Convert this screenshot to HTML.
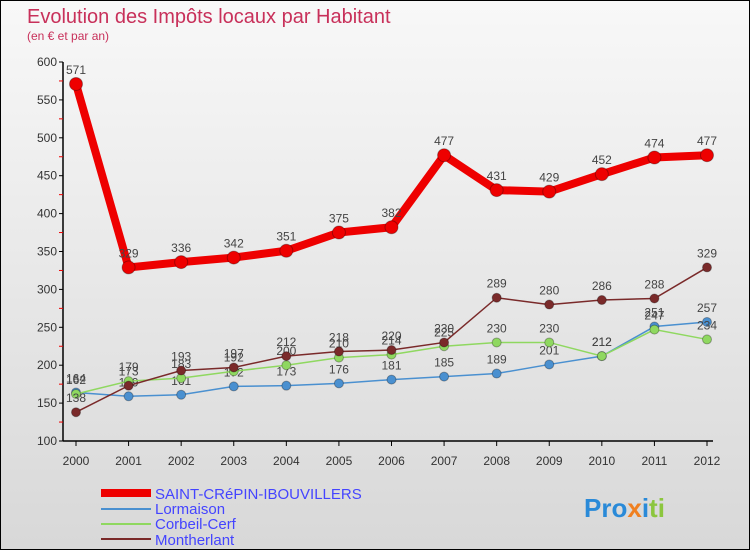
<!DOCTYPE html>
<html><head><meta charset="utf-8"><style>
body{margin:0}
#c{width:748px;height:548px;border:1px solid #000;position:relative;background:linear-gradient(#f8f8f8,#d8d8d8);font-family:"Liberation Sans",sans-serif;overflow:hidden}
</style></head><body>
<div id="c">
<svg width="748" height="548" id="s">
<text x="26" y="22" font-size="20" fill="#c8305a">Evolution des Impôts locaux par Habitant</text>
<text x="26" y="39" font-size="12" fill="#c8305a">(en € et par an)</text>
<g id="axes"></g><g id="series"></g>
<g>
<line x1="100" y1="492" x2="150" y2="492" stroke="#e00" stroke-width="8"/>
<text x="154" y="498" font-size="15" fill="#44f">SAINT-CRéPIN-IBOUVILLERS</text>
<line x1="100" y1="508" x2="150" y2="508" stroke="#4a90d0" stroke-width="2"/>
<text x="154" y="513" font-size="15" fill="#44f">Lormaison</text>
<line x1="100" y1="523" x2="150" y2="523" stroke="#8fd860" stroke-width="2"/>
<text x="154" y="528" font-size="15" fill="#44f">Corbeil-Cerf</text>
<line x1="100" y1="538" x2="150" y2="538" stroke="#7a2a2a" stroke-width="2"/>
<text x="154" y="544" font-size="15" fill="#44f">Montherlant</text>
</g>
<text x="583" y="516" font-size="26" font-weight="bold"><tspan fill="#2a8ad8">Pro</tspan><tspan fill="#f08020">x</tspan><tspan fill="#2a8ad8">i</tspan><tspan fill="#8cc63e">ti</tspan></text>
</svg></div>
<script>
const years=[2000,2001,2002,2003,2004,2005,2006,2007,2008,2009,2010,2011,2012];
const saint=[571,329,336,342,351,375,382,477,431,429,452,474,477];
const lormaison=[164,159,161,172,173,176,181,185,189,201,212,251,257];
const corbeil=[162,179,183,192,200,210,214,225,230,230,212,247,234];
const montherlant=[138,173,193,197,212,218,220,230,289,280,286,288,329];
const yTicks=[100,150,200,250,300,350,400,450,500,550,600];
const NS="http://www.w3.org/2000/svg";
const X=i=>75+i*(706-75)/(years.length-1);
const Y=v=>440-(v-100)*(440-61)/500;
function mk(t,a,p){const e=document.createElementNS(NS,t);for(const k in a)e.setAttribute(k,a[k]);p.appendChild(e);return e;}
const ax=document.getElementById('axes'),sg=document.getElementById('series');
let l=mk('line',{x1:62,y1:61,x2:62,y2:440,stroke:'#000','stroke-width':1.5},ax);


l=mk('line',{x1:62,y1:440,x2:712,y2:440,stroke:'#000','stroke-width':1.5},ax);


yTicks.forEach((v,i)=>{
 mk('line',{x1:58,y1:Y(v),x2:62,y2:Y(v),stroke:'#000'},ax);
 if(i<yTicks.length-1)mk('line',{x1:58,y1:Y(v+25),x2:62,y2:Y(v+25),stroke:'#e00'},ax);
 const t=mk('text',{x:56,y:Y(v)+4,'font-size':12,fill:'#333','text-anchor':'end'},ax);t.textContent=v;
 
 
});
years.forEach((y,i)=>{
 mk('line',{x1:X(i),y1:440,x2:X(i),y2:445,stroke:'#000'},ax);
 const t=mk('text',{x:X(i),y:464,'font-size':12,fill:'#333','text-anchor':'middle'},ax);t.textContent=y;
 
 
});
function series(d,col,w,r,name){
 const g=mk('g',{},sg);
 
 
 mk('polyline',{points:d.map((v,i)=>X(i)+','+Y(v)).join(' '),fill:'none',stroke:col,'stroke-width':w},g);
 d.forEach((v,i)=>{
  const c=mk('circle',{cx:X(i),cy:Y(v),r:r,fill:col,stroke:'rgba(0,0,0,0.3)'},g);
  
  
  const t=mk('text',{x:X(i),y:Y(v)-10,'font-size':12,fill:'#444','text-anchor':'middle'},g);t.textContent=v;
  
  
 });
}
series(lormaison,'#4a90d0',1.5,4.5,'series-lormaison');
series(corbeil,'#8fd860',1.5,4.5,'series-corbeil-cerf');
series(montherlant,'#7a2a2a',1.5,4.5,'series-montherlant');
series(saint,'#e00',8,6.5,'series-saint-crepin');
</script>
</body></html>
